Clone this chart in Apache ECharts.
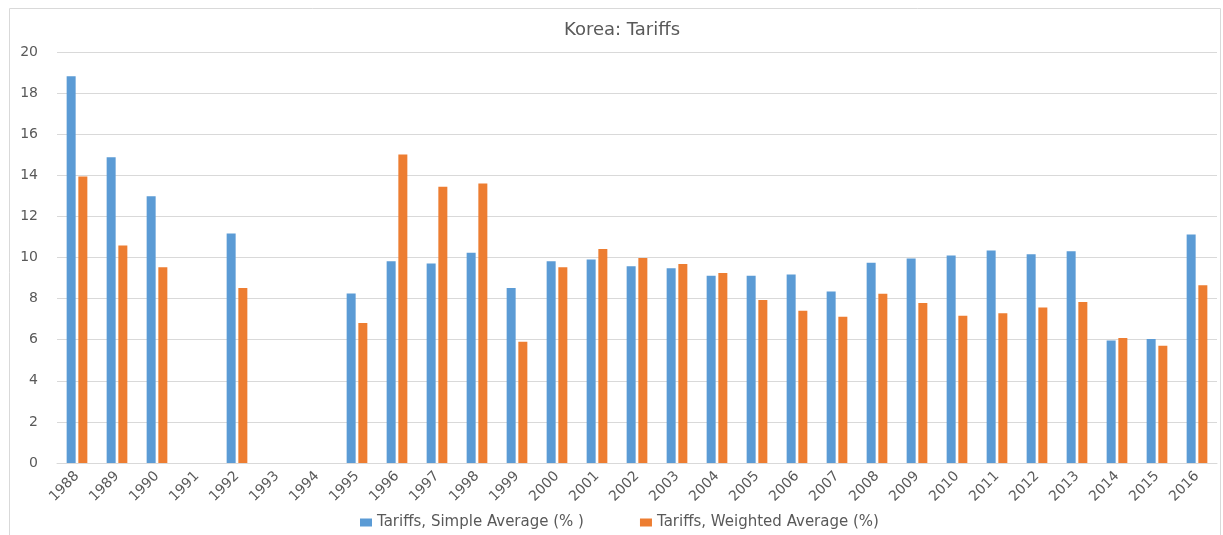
<!DOCTYPE html>
<html>
<head>
<meta charset="utf-8">
<script src="https://cdn.jsdelivr.net/npm/echarts@6/dist/echarts.min.js"></script>
<style>
  html, body { margin: 0; padding: 0; background: #fff; }
  #tu1 { width: 1223px; height: 535px; }
</style>
</head>
<body>
<div id="tu1"></div>
<script>
var years = ['1988','1989','1990','1991','1992','1993','1994','1995','1996','1997','1998','1999','2000','2001','2002',
    '2003','2004','2005','2006','2007','2008','2009','2010','2011','2012','2013','2014','2015','2016'];

var simpleAvg = [18.82, 14.88, 12.98, null, 11.17, null, null, 8.25, 9.82, 9.71, 10.23, 8.51, 9.82, 9.90, 9.58,
    9.48, 9.11, 9.11, 9.17, 8.35, 9.74, 9.95, 10.10, 10.34, 10.16, 10.31, 5.96, 6.03, 11.12];

var weightedAvg = [13.94, 10.58, 9.53, null, 8.52, null, null, 6.81, 15.01, 13.44, 13.60, 5.90, 9.53, 10.41, 9.98,
    9.68, 9.24, 7.93, 7.41, 7.12, 8.23, 7.78, 7.16, 7.29, 7.57, 7.83, 6.08, 5.70, 8.65];

var yTicks = [0, 20, 2]; // min, max, interval

var seriesNames = ['Tariffs, Simple Average (% )', 'Tariffs, Weighted Average (%)'];

var myChart1 = echarts.init(document.getElementById('tu1'));

var textColor = '#595959';
var fontName = '"DejaVu Sans", sans-serif';

var option1 = {
    animation: false,
    textStyle: { fontFamily: fontName },
    title: {
        text: 'Korea: Tariffs',
        left: 617,
        top: 16,
        textAlign: 'center',
        textStyle: {
            color: textColor,
            fontSize: 18,
            fontWeight: 'normal',
            fontFamily: fontName
        }
    },
    graphic: [{
        type: 'rect',
        left: 7,
        top: 6,
        shape: { width: 1211, height: 530 },
        style: { fill: 'none', stroke: '#d9d9d9', lineWidth: 1 },
        silent: true
    }],
    legend: {
        top: 510,
        left: 355,
        itemWidth: 12,
        itemHeight: 8,
        itemGap: 56,
        icon: 'rect',
        textStyle: { color: textColor, fontSize: 15, fontFamily: fontName },
        data: seriesNames
    },
    grid: {
        left: 57,
        right: 6,
        top: 52,
        bottom: 72
    },
    xAxis: {
        type: 'category',
        data: years,
        axisTick: { show: false },
        axisLine: { lineStyle: { color: '#d9d9d9', width: 1 } },
        axisLabel: {
            rotate: 45,
            interval: 0,
            color: textColor,
            fontSize: 14,
            margin: 11
        }
    },
    yAxis: {
        type: 'value',
        min: yTicks[0],
        max: yTicks[1],
        interval: yTicks[2],
        axisLine: { show: false },
        axisTick: { show: false },
        splitLine: { lineStyle: { color: '#d9d9d9', width: 1 } },
        axisLabel: { color: textColor, fontSize: 14, margin: 19 }
    },
    series: [{
        name: seriesNames[0],
        type: 'bar',
        data: simpleAvg,
        barWidth: 9,
        barGap: '30%',
        itemStyle: { color: '#5b9bd5' }
    }, {
        name: seriesNames[1],
        type: 'bar',
        data: weightedAvg,
        barWidth: 9,
        barGap: '30%',
        itemStyle: { color: '#ed7d31' }
    }]
};

myChart1.setOption(option1);
</script>
</body>
</html>
